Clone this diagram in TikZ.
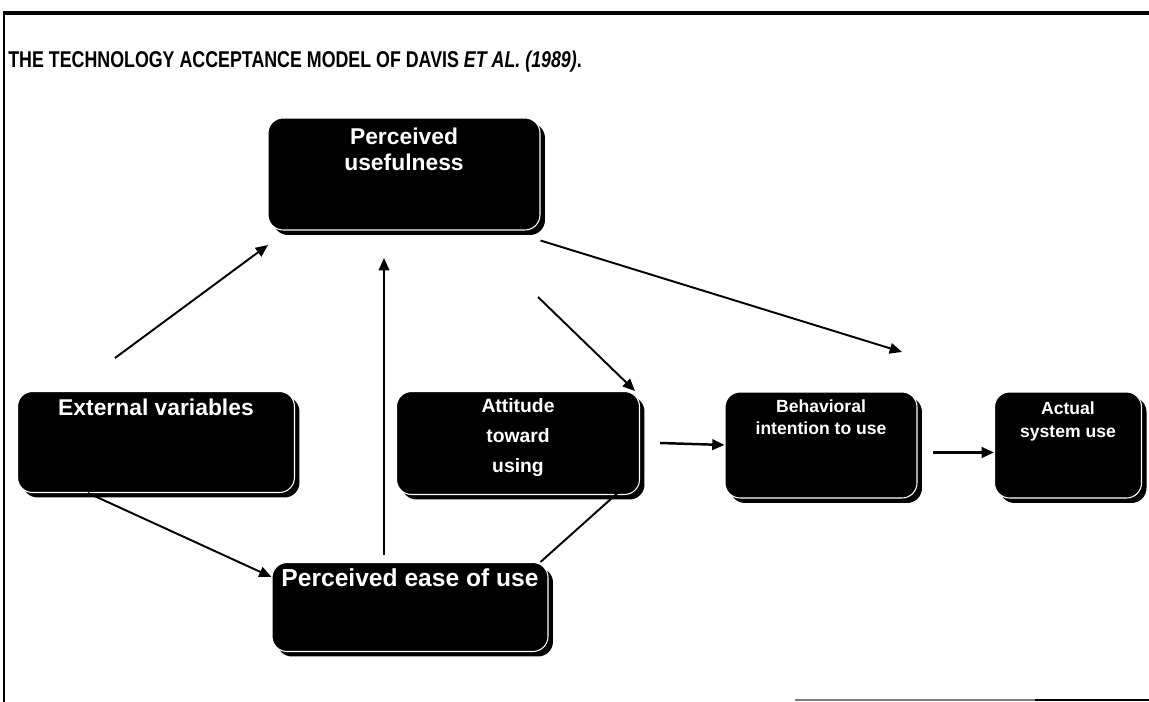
\documentclass[tikz,border=0pt]{standalone}
\usepackage{fontspec}
\setmainfont{Liberation Sans}
\usetikzlibrary{arrows.meta,positioning,shadows}

\begin{document}
\begin{tikzpicture}[
x=0.02cm, y=-0.02cm,
font=\normalfont,
tambox/.style={rounded corners=0.3cm, fill=black, draw=white, line width=0.6pt,
  drop shadow={shadow xshift=0.1cm, shadow yshift=-0.1cm, fill=black, opacity=1},
  inner sep=0pt},
boxtext/.style={text=white, font=\fontsize{13}{15}\selectfont\bfseries, align=center, inner sep=0pt},
oneway/.style={-{Triangle[length=7pt,width=6pt]}, line width=1.1pt},
]
    \useasboundingbox (0,0) rectangle (1149,702);
    % Draw frame
    \draw[line width=2pt] (3,13) -- (1149,13);
    \draw[line width=1pt] (4,13) -- (4,702);
    \draw[line width=1pt, gray] (795,700) -- (1035,700);
    \draw[line width=1.5pt] (1035,700) -- (1149,700);

    \node (title) [anchor=west, inner sep=0pt, font=\fontsize{13}{15}\selectfont\bfseries] at (8,62)
        {\scalebox{0.78}[1]{THE TECHNOLOGY ACCEPTANCE MODEL OF DAVIS \textit{ET AL. (1989)}.}};

    % Boxes
    \node (pu) [tambox, minimum width=5.44cm, minimum height=2.24cm] at (404,174) {};
    \node (ev) [tambox, minimum width=5.54cm, minimum height=2.02cm] at (156,442) {};
    \node (att) [tambox, minimum width=4.86cm, minimum height=2.06cm] at (518,443) {};
    \node (bi) [tambox, minimum width=3.84cm, minimum height=2.12cm] at (821,445) {};
    \node (use) [tambox, minimum width=2.94cm, minimum height=2.12cm] at (1068,445) {};
    \node (peou) [tambox, minimum width=5.52cm, minimum height=1.78cm] at (410,607) {};

    \node (putext) [boxtext, below=0.2cm of pu.north] {Perceived\\usefulness};
    \node (evtext) [boxtext, below=0.16cm of ev.north] {External variables};
    \node (atttext) [boxtext, font=\fontsize{11}{17}\selectfont\bfseries, below=0.15cm of att.north] {Attitude\\toward\\using};
    \node (bitext) [boxtext, font=\fontsize{10}{13}\selectfont\bfseries, below=0.15cm of bi.north] {Behavioral\\intention to use};
    \node (usetext) [boxtext, font=\fontsize{10}{13}\selectfont\bfseries, below=0.2cm of use.north] {Actual\\system use};
    \node (peoutext) [boxtext, font=\fontsize{14}{16}\selectfont\bfseries, below=0.12cm of peou.north] {Perceived ease of use};

    \draw
    (115,358) coordinate (evup)
    (268,245) coordinate (puleft)
    (384,555) coordinate (peouup)
    (384,258) coordinate (pudown)
    (538,297) coordinate (pumid)
    (902,352) coordinate (biabove);

    % Arrows
    \draw[oneway] (evup) -- (puleft);
    \draw[oneway] ([xshift=1.42cm]ev.south west) -- ([yshift=0.6cm]peou.west);
    \draw[oneway] (peouup) -- (pudown);
    \draw[oneway] ([xshift=-0.16cm]peou.north east) -- ([xshift=-0.17cm,yshift=0.29cm]att.south east);
    \draw[oneway] (pumid) -- ([xshift=-0.1cm]att.north east);
    \draw[oneway] ([yshift=-0.2cm]pu.south east) -- (biabove);
    \draw[oneway, line width=1.4pt] ([xshift=0.4cm]att.east) -- (bi.west);
    \draw[oneway, line width=1.4pt] ([xshift=0.3cm,yshift=-0.15cm]bi.east) -- ([yshift=-0.15cm]use.west);

\end{tikzpicture}
\end{document}
